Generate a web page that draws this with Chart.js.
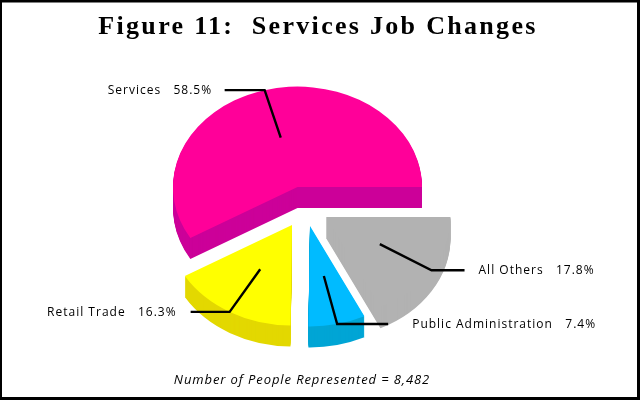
<!DOCTYPE html>
<html>
<head>
<meta charset="utf-8">
<style>
html,body{margin:0;padding:0;background:#fff;overflow:hidden}
#wrap{position:absolute;left:0;top:0;width:640px;height:400px}
</style>
<script src="https://cdn.jsdelivr.net/npm/chart.js@4/dist/chart.umd.min.js"></script>
</head>
<body>
<div id="wrap"><canvas id="c" width="640" height="400"></canvas></div>
<script>
const categories = ["Services", "All Others", "Public Administration", "Retail Trade"];
const percents = [58.5, 17.8, 7.4, 16.3];
const sliceLabels = ["Services   58.5%", "All Others   17.8%", "Public Administration   7.4%", "Retail Trade   16.3%"];
const titleText = "Figure 11:  Services Job Changes";
const footnote = "Number of People Represented = 8,482";

const topColors = ["#FF0099", "#B2B2B2", "#00BBFF", "#FFFF00"];
const wallColors = ["#CC0099", "#B2B2B2", "#00A5D5", "#E3D800"];
const apexX = [297.5, 326, 310, 292];
const apexY = [187, 217, 226, 225];
const leaderRun = [-40, 33, 51, -39];
const labelGap = [-12.5, 14, 24, -14];
const labelAlign = ["right", "left", "left", "right"];
const labelNudgeY = [0, 0, 1, 1];
const RX = 124.5, SQUASH = 100 / 124, DEPTH = 21;

const pie3d = {
  id: "pie3d",
  beforeDatasetsDraw(chart) {
    const ctx = chart.ctx;
    const arcs = chart.getDatasetMeta(0).data;
    const order = [0, 3, 2, 1];
    for (const i of order) {
      const a = arcs[i];
      const wall = Object.create(a);
      wall.options = Object.assign({}, a.options, { backgroundColor: wallColors[i], borderWidth: 0 });
      for (let d = DEPTH; d >= 1; d--) {
        ctx.save();
        ctx.translate(apexX[i], apexY[i] + d);
        ctx.scale(1, SQUASH);
        ctx.translate(-a.x, -a.y);
        wall.draw(ctx);
        ctx.restore();
      }
      ctx.save();
      ctx.translate(apexX[i], apexY[i]);
      ctx.scale(1, SQUASH);
      ctx.translate(-a.x, -a.y);
      a.draw(ctx);
      ctx.restore();
    }
    return false;
  },
  afterDraw(chart) {
    const ctx = chart.ctx;
    const arcs = chart.getDatasetMeta(0).data;
    ctx.save();
    ctx.strokeStyle = "#000";
    ctx.lineWidth = 2.4;
    ctx.lineJoin = "miter";
    ctx.fillStyle = "#000";
    ctx.textBaseline = "middle";
    ctx.font = "12px 'Open Sans'";
    ctx.letterSpacing = "1px";
    arcs.forEach((a, i) => {
      const mid = (a.startAngle + a.endAngle) / 2;
      const cx = Math.cos(mid), sy = Math.sin(mid) * SQUASH;
      const ix = apexX[i] + cx * a.outerRadius * 0.51, iy = apexY[i] + sy * a.outerRadius * 0.51;
      const ex = apexX[i] + cx * a.outerRadius, ey = apexY[i] + sy * a.outerRadius;
      ctx.beginPath();
      ctx.moveTo(ix, iy);
      ctx.lineTo(ex, ey);
      ctx.lineTo(ex + leaderRun[i], ey);
      ctx.stroke();
      ctx.textAlign = labelAlign[i];
      ctx.fillText(sliceLabels[i], ex + leaderRun[i] + labelGap[i], ey + labelNudgeY[i]);
    });
    ctx.font = "italic 13px 'Open Sans'";
    ctx.letterSpacing = "0.9px";
    ctx.textAlign = "center";
    ctx.fillText(footnote, 302, 380);
    ctx.restore();
    ctx.save();
    ctx.fillStyle = "#000";
    ctx.fillRect(0, 0, 640, 2.5);
    ctx.fillRect(0, 397, 640, 3);
    ctx.fillRect(0, 0, 2, 400);
    ctx.fillRect(637, 0, 3, 400);
    ctx.restore();
  }
};

const titleSpacing = {
  id: "titleSpacing",
  beforeDraw(chart) { chart.ctx.letterSpacing = "2.3px"; },
  afterDraw(chart) { chart.ctx.letterSpacing = "0px"; }
};

new Chart(document.getElementById("c"), {
  type: "pie",
  data: {
    labels: categories,
    datasets: [{ data: percents, backgroundColor: topColors, borderWidth: 0, radius: RX }]
  },
  options: {
    responsive: false,
    animation: false,
    rotation: -120.6,
    layout: { padding: { right: 4 } },
    events: [],
    plugins: {
      legend: { display: false },
      tooltip: { enabled: false },
      title: {
        display: true,
        text: titleText,
        color: "#000",
        padding: { top: 12, bottom: 0 },
        font: { family: "'Liberation Serif'", size: 26, weight: "bold" }
      }
    }
  },
  plugins: [titleSpacing, pie3d]
});
</script>
</body>
</html>
